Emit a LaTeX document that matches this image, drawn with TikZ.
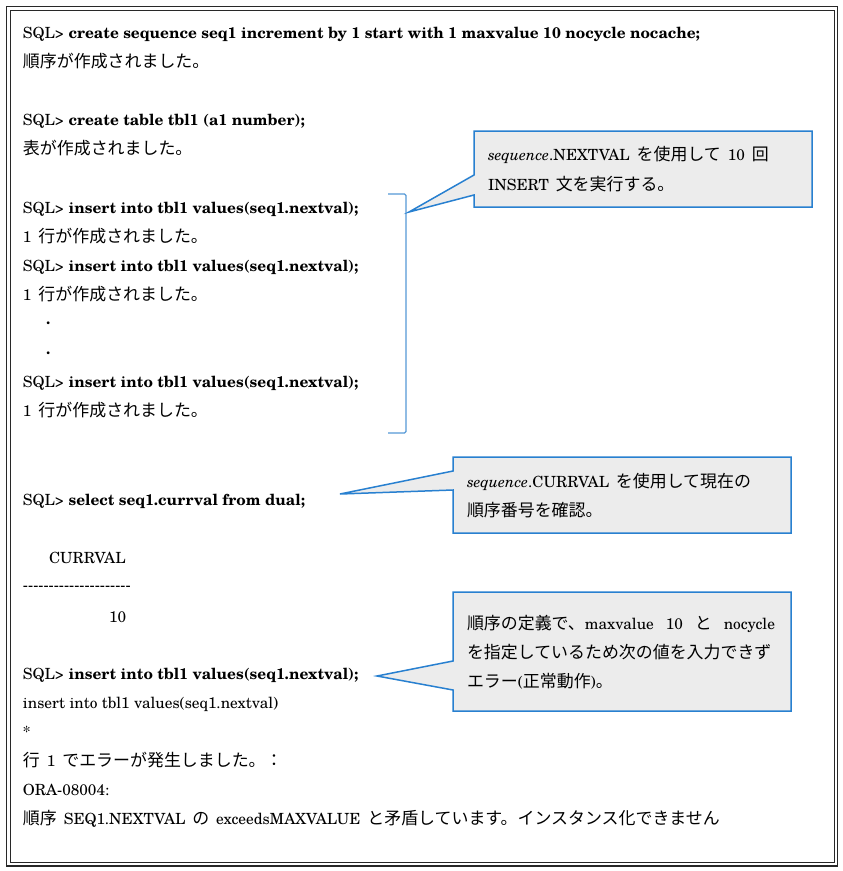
\documentclass[tikz,border=0pt]{standalone}
\usepackage{fontspec}
\setmainfont{TeX Gyre Schola}
\newfontfamily\jpf[Scale=1.1]{Noto Sans CJK JP}
\usetikzlibrary{calc}
\definecolor{cblue}{RGB}{40,128,208}
\definecolor{bblue}{RGB}{84,152,214}
\definecolor{cfill}{RGB}{236,236,236}
\definecolor{frame}{RGB}{40,40,40}
\newcommand{\jx}[1]{{\jpf #1}}
\newcommand{\js}{\hspace{0.45em}}
\newcommand{\dashrow}{-{}-{}-{}-{}-{}-{}-{}-{}-{}-{}-{}-{}-{}-{}-{}-{}-{}-{}-{}-{}-}
\tikzset{
  txt/.style={anchor=base west, inner sep=0pt, outer sep=0pt, font=\fontsize{15.4}{18}\selectfont},
  cbox/.style={rectangle, inner sep=0pt, outer sep=0pt, minimum width=338pt},
  cline/.style={draw=cblue, line width=1.5pt, fill=cfill, line join=miter},
  brk/.style={draw=bblue, line width=1.3pt, rounded corners=1.5pt}
}
\begin{document}
\begin{tikzpicture}[x=1pt, y=-1pt]
\useasboundingbox (0,0) rectangle (843,871);
% frame
\draw[frame, line width=1.8pt] (6.5,6.5) rectangle (837.5,866);
\draw[frame, line width=1pt] (10.5,10.5) rectangle (834,862);

% console text
\node[txt] (l1) at (23,38) {SQL> \textbf{create sequence seq1 increment by 1 start with 1 maxvalue 10 nocycle nocache;}};
\node[txt] (l2) at (23,67) {\jx{順序が作成されました。}};
\node[txt] (l3) at (23,125) {SQL> \textbf{create table tbl1 (a1 number);}};
\node[txt] (l4) at (23,154) {\jx{表が作成されました。}};
\node[txt] (l5) at (23,213) {SQL> \textbf{insert into tbl1 values(seq1.nextval);}};
\node[txt] (l6) at (23,242) {1\js\jx{行が作成されました。}};
\node[txt] (l7) at (23,271) {SQL> \textbf{insert into tbl1 values(seq1.nextval);}};
\node[txt] (l8) at (23,300) {1\js\jx{行が作成されました。}};
\node[txt] (d1) at (46,324) {\textbf{.}};
\node[txt] (d2) at (46,354) {\textbf{.}};
\node[txt] (l9) at (23,387) {SQL> \textbf{insert into tbl1 values(seq1.nextval);}};
\node[txt] (l10) at (23,416) {1\js\jx{行が作成されました。}};
\node[txt] (l11) at (23,505) {SQL> \textbf{select seq1.currval from dual;}};
\node[txt] (l12) at (49,563) {CURRVAL};
\node[txt] (l13) at (23,590) {\dashrow};
\node[txt] (l14) at (109,622) {10};
\node[txt] (l15) at (23,679) {SQL> \textbf{insert into tbl1 values(seq1.nextval);}};
\node[txt] (l16) at (23,708) {insert into tbl1 values(seq1.nextval)};
\node[txt] (l17) at (23,737) {*};
\node[txt] (l18) at (23,766) {\jx{行}\js 1\js\jx{でエラーが発生しました。：}};
\node[txt] (l19) at (23,795) {ORA-08004:};
\node[txt] (l20) at (23,824) {\jx{順序}\js SEQ1.NEXTVAL\js\jx{の}\js exceedsMAXVALUE\js\jx{と矛盾しています。インスタンス化できません}};

% bracket
\coordinate (b1) at (388,194);
\coordinate (b2) at (406,194);
\coordinate (b3) at (406,433);
\coordinate (b4) at (388,433);
\draw[brk] (b1) -- (b2) -- (b3) -- (b4);

% callout 1
\node[cbox, minimum height=76pt] (c1) at (643,169) {};
\coordinate (p1) at (409,212);
\draw[cline] (c1.north west) -- (c1.north east) -- (c1.south east) -- (c1.south west)
  -- ($(c1.north west)+(0,64)$) -- (p1) -- ($(c1.north west)+(0,44)$) -- cycle;
\node[txt] (t1a) at (488,160) {\textit{sequence}.NEXTVAL\js\jx{を使用して}\js 10\js\jx{回}};
\node[txt] (t1b) at (488,190) {INSERT\js\jx{文を実行する。}};

% callout 2
\node[cbox, minimum height=76pt] (c2) at (622,495) {};
\coordinate (p2) at (340,494);
\draw[cline] (c2.north west) -- (c2.north east) -- (c2.south east) -- (c2.south west)
  -- ($(c2.north west)+(0,33)$) -- (p2) -- ($(c2.north west)+(0,14)$) -- cycle;
\node[txt] (t2a) at (467,487) {\textit{sequence}.CURRVAL\js\jx{を使用して現在の}};
\node[txt] (t2b) at (467,516) {\jx{順序番号を確認。}};

% callout 3
\node[cbox, minimum height=119pt] (c3) at (622,651.5) {};
\coordinate (p3) at (377,676);
\draw[cline] (c3.north west) -- (c3.north east) -- (c3.south east) -- (c3.south west)
  -- ($(c3.north west)+(0,98)$) -- (p3) -- ($(c3.north west)+(0,69)$) -- cycle;
\node[txt] (t3a) at (467,629) {\makebox[308pt][s]{\jx{順序の定義で、}maxvalue 10 \jx{と} nocycle}};
\node[txt] (t3b) at (467,658) {\jx{を指定しているため次の値を入力できず}};
\node[txt] (t3c) at (467,687) {\jx{エラー}(\jx{正常動作})\jx{。}};
\end{tikzpicture}
\end{document}
